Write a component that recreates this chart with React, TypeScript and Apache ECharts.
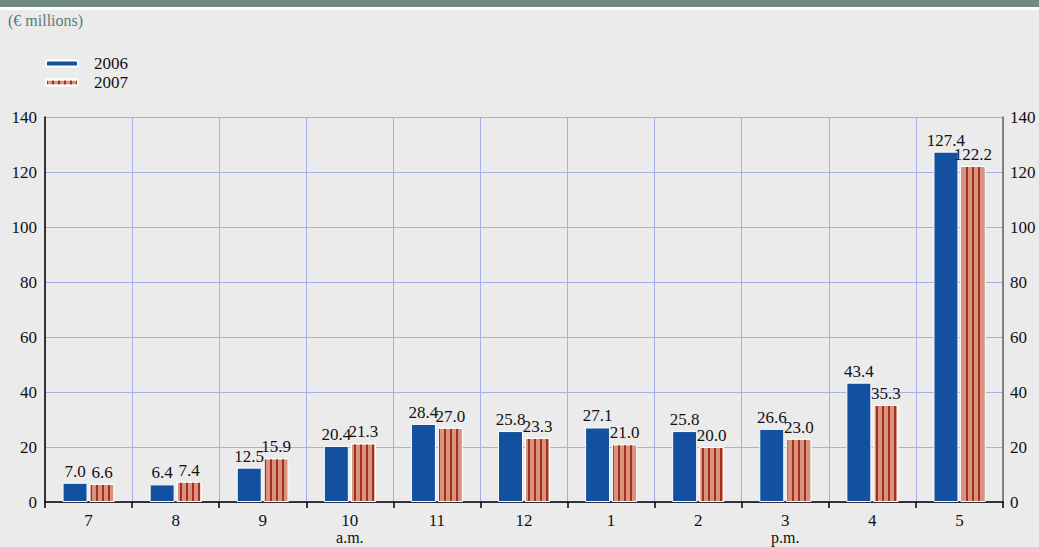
import React, { useEffect, useRef } from "react";
import * as echarts from "echarts";

const categories = ["7", "8", "9", "10", "11", "12", "1", "2", "3", "4", "5"];
const subLabels: Record<string, string> = { "10": "a.m.", "3": "p.m." };
const values2006 = [7.0, 6.4, 12.5, 20.4, 28.4, 25.8, 27.1, 25.8, 26.6, 43.4, 127.4];
const values2007 = [6.6, 7.4, 15.9, 21.3, 27.0, 23.3, 21.0, 20.0, 23.0, 35.3, 122.2];
const seriesNames = ["2006", "2007"];
const unitLabel = "(€ millions)";

const FONT = "Liberation Serif";

export default function App() {
  const ref = useRef<HTMLDivElement>(null);
  useEffect(() => {
    document.body.style.margin = "0";
    const chart = echarts.init(ref.current!, null, { renderer: "svg" });
    const labelStyle = {
      show: true,
      position: "top" as const,
      distance: 3,
      color: "#111",
      fontFamily: FONT,
      fontSize: 17,
      formatter: (p: any) => Number(p.value).toFixed(1),
    };
    chart.setOption({
      animation: false,
      backgroundColor: "#ebebeb",
      textStyle: { fontFamily: FONT },
      graphic: [
        { type: "rect", left: 0, top: 0, shape: { width: 1039, height: 7 }, style: { fill: "#6f8a83" } },
        { type: "rect", left: 0, top: 7, shape: { width: 1039, height: 3 }, style: { fill: "#ffffff" } },
        {
          type: "text",
          left: 8,
          top: 12,
          style: { text: unitLabel, fill: "#5b7d74", fontFamily: FONT, fontSize: 16 },
        },
      ],
      legend: {
        left: 40,
        top: 50,
        orient: "vertical",
        itemWidth: 32,
        itemHeight: 6,
        itemGap: 2,
        textStyle: { fontFamily: FONT, fontSize: 17, color: "#111", padding: [0, 0, 0, 11] },
        data: seriesNames,
      },
      grid: { left: 45, right: 36, top: 117, bottom: 45 },
      xAxis: {
        type: "category",
        data: categories,
        offset: 2,
        axisLine: { show: true, lineStyle: { color: "#000", width: 1.5 } },
        axisTick: { show: true, length: 6, inside: false, lineStyle: { color: "#000", width: 1.5 } },
        splitLine: { show: true, lineStyle: { color: "#a4b0e4", width: 1 } },
        axisLabel: {
          margin: 8,
          fontFamily: FONT,
          fontSize: 17,
          color: "#111",
          lineHeight: 17,
          formatter: (v: string) => (subLabels[v] ? `${v}\n{s|${subLabels[v]}}` : v),
          rich: { s: { fontFamily: FONT, fontSize: 16, color: "#111", lineHeight: 16 } },
        },
      },
      yAxis: [
        {
          type: "value",
          min: 0,
          max: 140,
          interval: 20,
          position: "left",
          axisLine: { show: true, lineStyle: { color: "#000", width: 1.5 } },
          axisTick: { show: false },
          splitLine: { show: true, lineStyle: { color: "#a4b0e4", width: 1 } },
          axisLabel: { margin: 8, fontFamily: FONT, fontSize: 17, color: "#111" },
        },
        {
          type: "value",
          min: 0,
          max: 140,
          interval: 20,
          position: "right",
          axisLine: { show: true, lineStyle: { color: "#666", width: 1.5 } },
          axisTick: { show: false },
          splitLine: { show: false },
          axisLabel: { margin: 7, fontFamily: FONT, fontSize: 17, color: "#111" },
        },
      ],
      series: [
        {
          name: seriesNames[0],
          type: "bar",
          data: values2006,
          barWidth: 25,
          barGap: "8%",
          itemStyle: { color: "#1450a0", borderColor: "#ffffff", borderWidth: 1 },
          label: labelStyle,
        },
        {
          name: seriesNames[1],
          type: "bar",
          data: values2007,
          barWidth: 25,
          itemStyle: {
            color: "#d8937c",
            borderColor: "#ffffff",
            borderWidth: 1,
            decal: {
              symbol: "rect",
              symbolSize: 1,
              color: "rgba(160,35,25,0.9)",
              dashArrayX: [1.5, 3.5],
              dashArrayY: [20, 0],
              rotation: 0,
            },
          },
          label: labelStyle,
        },
      ],
    });
    return () => chart.dispose();
  }, []);
  return <div ref={ref} style={{ position: "absolute", left: 0, top: 0, width: 1039, height: 547 }} />;
}
